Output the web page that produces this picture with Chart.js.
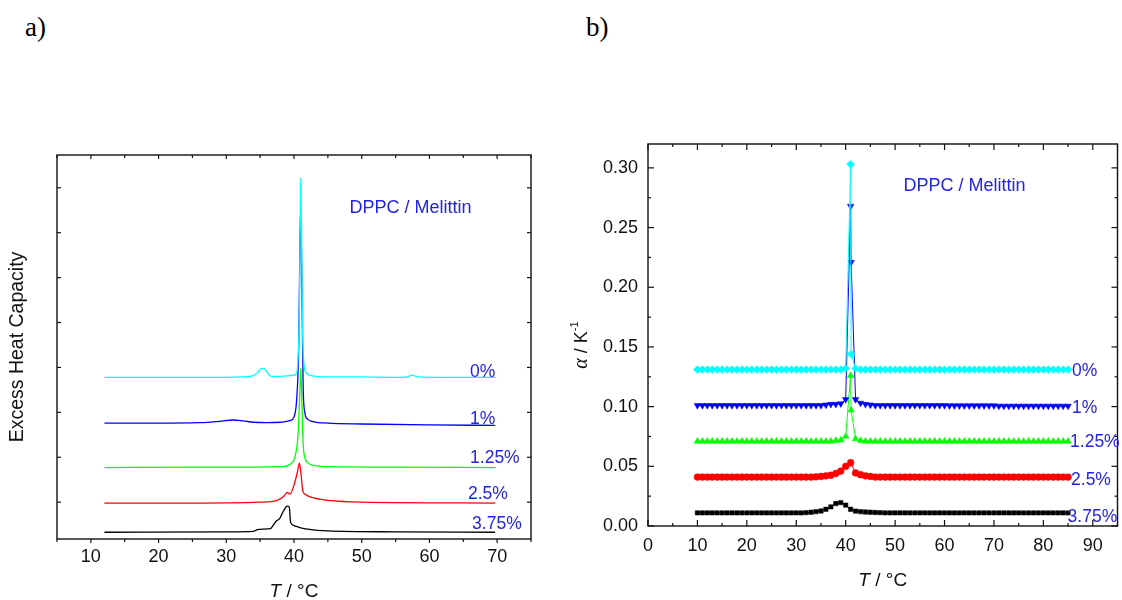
<!DOCTYPE html>
<html>
<head>
<meta charset="utf-8">
<script src="https://cdn.jsdelivr.net/npm/chart.js@4.4.1/dist/chart.umd.min.js"></script>
<style>
  body { margin: 0; background: #fff; width: 1122px; height: 600px; overflow: hidden; position: relative; }
  #ca { position: absolute; left: 0; top: 0; }
  #cb { position: absolute; left: 561px; top: 0; }
  .tag { position: absolute; font-family: "Liberation Serif", "Times New Roman", serif; font-size: 27px; line-height: 1; color: #000; }
</style>
</head>
<body>
<div class="tag" style="left:25px;top:14px">a)</div>
<div class="tag" style="left:586px;top:14px">b)</div>
<canvas id="ca" width="561" height="600"></canvas>
<canvas id="cb" width="561" height="600"></canvas>
<script>
// ---- panel a) : excess heat capacity traces (arbitrary units, offset per sample)
const cpT0 = [12, 20, 28, 32, 34, 34.6, 35.1, 35.5, 36.0, 36.6, 38, 39.5, 40.3, 40.6, 40.8, 40.95, 41.0, 41.1, 41.25, 41.45, 41.8, 42.5, 45, 50, 55, 56.8, 57.3, 57.7, 58.3, 62, 69.7];
const cp0  = [2.78, 2.78, 2.78, 2.79, 2.82, 2.88, 2.97, 2.98, 2.90, 2.80, 2.80, 2.82, 2.85, 3.2, 4.3, 6.8, 7.22, 6.2, 4.0, 3.1, 2.88, 2.82, 2.79, 2.79, 2.78, 2.79, 2.83, 2.82, 2.79, 2.78, 2.78];

const cpT1 = [12, 20, 26, 29, 31, 32.5, 34, 36, 38, 39.5, 40.0, 40.4, 40.7, 40.9, 41.0, 41.15, 41.35, 41.6, 42, 43, 45, 50, 60, 69.7];
const cp1  = [1.76, 1.76, 1.77, 1.80, 1.83, 1.81, 1.78, 1.77, 1.78, 1.82, 1.9, 2.3, 3.5, 6.0, 6.5, 5.0, 2.6, 2.0, 1.85, 1.79, 1.76, 1.74, 1.72, 1.71];

const cpT2 = [12, 25, 35, 38, 39.5, 40.2, 40.6, 40.85, 41.0, 41.15, 41.35, 41.6, 42, 43, 45, 55, 69.7];
const cp2  = [0.77, 0.78, 0.78, 0.79, 0.85, 1.05, 1.5, 2.4, 2.98, 2.3, 1.3, 1.0, 0.88, 0.82, 0.79, 0.78, 0.77];

const cpT3 = [12, 25, 35, 37.5, 38.5, 39.0, 39.4, 40.0, 40.5, 40.8, 41.05, 41.3, 41.6, 42.5, 45, 50, 69.7];
const cp3  = [-0.02, -0.02, 0.0, 0.04, 0.13, 0.22, 0.18, 0.38, 0.67, 0.87, 0.6, 0.25, 0.18, 0.11, 0.04, 0.0, -0.02];

const cpT4 = [12, 30, 34, 34.6, 35.5, 36.5, 37.0, 37.4, 37.9, 38.5, 39.0, 39.3, 39.5, 40.0, 41, 42, 45, 55, 69.7];
const cp4  = [-0.67, -0.66, -0.65, -0.61, -0.60, -0.59, -0.50, -0.42, -0.36, -0.18, -0.09, -0.11, -0.45, -0.52, -0.57, -0.60, -0.64, -0.66, -0.67];

const xTicksA = [10, 20, 30, 40, 50, 60, 70];
const xMinorA = [5, 15, 25, 35, 45, 55, 65, 75];
const yTicksA = [0, 1, 2, 3, 4, 5, 6, 7];

// ---- panel b) : thermal expansion coefficient, one point per degree
const tempsB = [10, 11, 12, 13, 14, 15, 16, 17, 18, 19, 20, 21, 22, 23, 24, 25, 26, 27, 28, 29,
  30, 31, 32, 33, 34, 35, 36, 37, 38, 39, 40, 41, 41.1, 42, 43, 44, 45, 46, 47, 48, 49, 50,
  51, 52, 53, 54, 55, 56, 57, 58, 59, 60, 61, 62, 63, 64, 65, 66, 67, 68, 69, 70,
  71, 72, 73, 74, 75, 76, 77, 78, 79, 80, 81, 82, 83, 84, 85];

const alpha0 = [0.131, 0.131, 0.131, 0.131, 0.131, 0.131, 0.131, 0.131, 0.131, 0.131,
  0.131, 0.131, 0.131, 0.131, 0.131, 0.131, 0.131, 0.131, 0.131, 0.131,
  0.131, 0.131, 0.131, 0.131, 0.131, 0.131, 0.131, 0.131, 0.131, 0.131,
  0.132, 0.303, 0.144,
  0.132, 0.131, 0.131, 0.131, 0.131, 0.131, 0.131, 0.131, 0.131,
  0.131, 0.131, 0.131, 0.131, 0.131, 0.131, 0.131, 0.131, 0.131, 0.131,
  0.131, 0.131, 0.131, 0.131, 0.131, 0.131, 0.131, 0.131, 0.131, 0.131,
  0.131, 0.131, 0.131, 0.131, 0.131, 0.131, 0.131, 0.131, 0.131, 0.131,
  0.131, 0.131, 0.131, 0.131, 0.131];

const alpha1 = [0.101, 0.101, 0.101, 0.101, 0.101, 0.101, 0.101, 0.101, 0.101, 0.101,
  0.101, 0.101, 0.101, 0.101, 0.101, 0.101, 0.101, 0.101, 0.101, 0.101,
  0.101, 0.101, 0.101, 0.101, 0.101, 0.101, 0.1015, 0.102, 0.102, 0.1025,
  0.106, 0.268, 0.221,
  0.106, 0.103, 0.102, 0.1015, 0.101, 0.101, 0.101, 0.101, 0.101,
  0.101, 0.101, 0.101, 0.101, 0.101, 0.101, 0.101, 0.101, 0.101, 0.101,
  0.1008, 0.1008, 0.1008, 0.1008, 0.1008, 0.1008, 0.1008, 0.1008, 0.1008, 0.1008,
  0.1005, 0.1005, 0.1005, 0.1005, 0.1005, 0.1005, 0.1005, 0.1005, 0.1005, 0.1005,
  0.1005, 0.1005, 0.1005, 0.1005, 0.1005];

const alpha2 = [0.071, 0.071, 0.071, 0.071, 0.071, 0.071, 0.071, 0.071, 0.071, 0.071,
  0.071, 0.071, 0.071, 0.071, 0.071, 0.071, 0.071, 0.071, 0.071, 0.071,
  0.071, 0.071, 0.071, 0.071, 0.071, 0.071, 0.071, 0.071, 0.0715, 0.072,
  0.075, 0.126, 0.097,
  0.073, 0.0715, 0.071, 0.071, 0.071, 0.071, 0.071, 0.071, 0.071,
  0.071, 0.071, 0.071, 0.071, 0.071, 0.071, 0.071, 0.071, 0.071, 0.071,
  0.071, 0.071, 0.071, 0.071, 0.071, 0.071, 0.071, 0.071, 0.071, 0.071,
  0.071, 0.071, 0.071, 0.071, 0.071, 0.071, 0.071, 0.071, 0.071, 0.071,
  0.071, 0.071, 0.071, 0.071, 0.071];

const alpha3 = [0.041, 0.041, 0.041, 0.041, 0.041, 0.041, 0.041, 0.041, 0.041, 0.041,
  0.041, 0.041, 0.041, 0.041, 0.041, 0.041, 0.041, 0.041, 0.041, 0.041,
  0.041, 0.041, 0.041, 0.041, 0.0412, 0.0415, 0.042, 0.0425, 0.044, 0.046,
  0.050, 0.053, null,
  0.0445, 0.043, 0.042, 0.0415, 0.041, 0.041, 0.041, 0.041, 0.041,
  0.041, 0.041, 0.041, 0.041, 0.041, 0.041, 0.041, 0.041, 0.041, 0.041,
  0.041, 0.041, 0.041, 0.041, 0.041, 0.041, 0.041, 0.041, 0.041, 0.041,
  0.041, 0.041, 0.041, 0.041, 0.041, 0.041, 0.041, 0.041, 0.041, 0.041,
  0.041, 0.041, 0.041, 0.041, 0.041];

const alpha4 = [0.011, 0.011, 0.011, 0.011, 0.011, 0.011, 0.011, 0.011, 0.011, 0.011,
  0.011, 0.011, 0.011, 0.011, 0.011, 0.011, 0.011, 0.011, 0.011, 0.011,
  0.011, 0.011, 0.0112, 0.0115, 0.012, 0.0126, 0.014, 0.016, 0.0188, 0.0196,
  0.0175, 0.014, null,
  0.0125, 0.012, 0.0117, 0.0115, 0.0113, 0.0112, 0.011, 0.011, 0.011,
  0.011, 0.011, 0.011, 0.011, 0.011, 0.011, 0.011, 0.011, 0.011, 0.011,
  0.011, 0.011, 0.011, 0.011, 0.011, 0.011, 0.011, 0.011, 0.011, 0.011,
  0.011, 0.011, 0.011, 0.011, 0.011, 0.011, 0.011, 0.011, 0.011, 0.011,
  0.011, 0.011, 0.011, 0.011, 0.011];

const xTicksB = [0, 10, 20, 30, 40, 50, 60, 70, 80, 90];
const xMinorB = [5, 15, 25, 35, 45, 55, 65, 75, 85, 95];
const yTicksB = [0, 0.05, 0.10, 0.15, 0.20, 0.25, 0.30];
const yMinorB = [0.025, 0.075, 0.125, 0.175, 0.225, 0.275];

const samples = ['0%', '1%', '1.25%', '2.5%', '3.75%'];
const colors = ['#00ffff', '#0000ff', '#00ff00', '#ff0000', '#000000'];
const title = 'DPPC / Melittin';

const SANS = '"Liberation Sans", Arial, sans-serif';
const NOTE = '#2323e6';

const pts = (xs, ys) => xs.map((x, i) => ({ x: x, y: ys[i] }));

function rich(ctx, parts, cx, cy, rot) {
  ctx.save();
  ctx.translate(cx, cy);
  if (rot) ctx.rotate(-Math.PI / 2);
  ctx.textBaseline = 'middle';
  ctx.textAlign = 'left';
  ctx.fillStyle = '#111';
  let w = 0;
  parts.forEach(p => { ctx.font = p.font; w += ctx.measureText(p.t).width; });
  let x = -w / 2;
  parts.forEach(p => { ctx.font = p.font; ctx.fillText(p.t, x, p.dy || 0); x += ctx.measureText(p.t).width; });
  ctx.restore();
}

const deco = {
  id: 'deco',
  afterDraw(chart, args, o) {
    const { ctx, chartArea: a } = chart;
    const x = chart.scales.x, y = chart.scales.y;
    ctx.save();
    ctx.strokeStyle = '#111';
    ctx.lineWidth = 1.4;
    ctx.strokeRect(a.left, a.top, a.right - a.left, a.bottom - a.top);
    ctx.lineWidth = 1.2;
    const seg = (x1, y1, x2, y2) => { ctx.beginPath(); ctx.moveTo(x1, y1); ctx.lineTo(x2, y2); ctx.stroke(); };
    const xt = (vals, len) => vals.forEach(v => {
      const p = x.getPixelForValue(v);
      seg(p, a.bottom, p, a.bottom + o.bottomDir * len);
      seg(p, a.top, p, a.top + len);
    });
    const yt = (vals, len) => vals.forEach(v => {
      const p = y.getPixelForValue(v);
      seg(a.left, p, a.left + len, p);
      seg(a.right, p, a.right - len, p);
    });
    xt(o.xMajor, o.major); xt(o.xMinor, o.minor);
    yt(o.yMajor, o.major); yt(o.yMinor, o.minor);
    ctx.textBaseline = 'middle';
    ctx.textAlign = 'left';
    o.notes.forEach(n => {
      ctx.font = n.font;
      ctx.fillStyle = NOTE;
      ctx.fillText(n.text, x.getPixelForValue(n.x), y.getPixelForValue(n.y));
    });
    ctx.restore();
    o.titles(ctx, a);
  }
};

const tickFont = { family: SANS, size: 18 };

new Chart(document.getElementById('ca'), {
  type: 'line',
  data: {
    datasets: [[cpT0, cp0], [cpT1, cp1], [cpT2, cp2], [cpT3, cp3], [cpT4, cp4]].map((s, i) => ({
      label: samples[i],
      data: pts(s[0], s[1]),
      borderColor: colors[i],
      borderWidth: 1.3,
      pointRadius: 0,
      cubicInterpolationMode: 'monotone'
    }))
  },
  options: {
    responsive: false,
    animation: false,
    events: [],
    layout: { padding: { top: 155, right: 30, left: 0, bottom: 0 } },
    plugins: {
      legend: { display: false },
      tooltip: { enabled: false },
      deco: {
        bottomDir: 1, major: 4, minor: 3,
        xMajor: xTicksA, xMinor: xMinorA, yMajor: yTicksA, yMinor: [],
        notes: samples.map((t, i) => ({ text: t, font: '17.5px ' + SANS, x: [66, 66, 66, 65.7, 66.3][i], y: [2.9, 1.85, 0.98, 0.18, -0.49][i] }))
          .concat([{ text: title, font: '18px ' + SANS, x: 48.2, y: 6.55 }]),
        titles(ctx, a) {
          rich(ctx, [
            { t: 'T', font: 'italic 19px ' + SANS },
            { t: ' / °C', font: '19px ' + SANS }
          ], (a.left + a.right) / 2, 592, false);
        }
      }
    },
    scales: {
      x: {
        type: 'linear', min: 5, max: 75,
        grid: { display: false, drawTicks: false },
        border: { display: false },
        afterBuildTicks: s => { s.ticks = xTicksA.map(v => ({ value: v })); },
        afterFit: s => { s.height = 61; },
        ticks: { font: tickFont, color: '#111', padding: 7, maxRotation: 0 }
      },
      y: {
        type: 'linear', min: -0.82, max: 7.73,
        grid: { display: false, drawTicks: false },
        border: { display: false },
        afterBuildTicks: s => { s.ticks = yTicksA.map(v => ({ value: v })); },
        afterFit: s => { s.width = 57; },
        ticks: { display: false },
        title: { display: true, text: 'Excess Heat Capacity', color: '#111', font: { family: SANS, size: 19.5 }, padding: { top: 6, bottom: 0 } }
      }
    }
  },
  plugins: [deco]
});

const marks = ['rectRot', 'triangle', 'triangle', 'circle', 'rect'];
const rots = [0, 180, 0, 0, 0];
const sizes = [3.9, 3.8, 3.8, 3.4, 3.1];
const seriesB = [alpha0, alpha1, alpha2, alpha3, alpha4];

new Chart(document.getElementById('cb'), {
  type: 'line',
  data: {
    datasets: seriesB.map((s, i) => ({
      label: samples[i],
      data: pts(tempsB, s),
      borderColor: colors[i],
      backgroundColor: colors[i],
      borderWidth: 1,
      pointStyle: marks[i],
      pointRotation: rots[i],
      pointRadius: sizes[i],
      pointBorderWidth: 0.5,
      spanGaps: true
    }))
  },
  options: {
    responsive: false,
    animation: false,
    events: [],
    layout: { padding: { top: 144, right: 1, left: 0, bottom: 0 } },
    plugins: {
      legend: { display: false },
      tooltip: { enabled: false },
      deco: {
        bottomDir: -1, major: 6, minor: 3,
        xMajor: xTicksB, xMinor: xMinorB, yMajor: yTicksB, yMinor: yMinorB,
        notes: samples.map((t, i) => ({ text: t, font: '17.5px ' + SANS, x: [85.8, 85.8, 85.4, 85.6, 84.9][i], y: [0.130, 0.099, 0.070, 0.0384, 0.0073][i] }))
          .concat([{ text: title, font: '18px ' + SANS, x: 51.7, y: 0.2852 }]),
        titles(ctx, a) {
          rich(ctx, [
            { t: 'T', font: 'italic 19px ' + SANS },
            { t: ' / °C', font: '19px ' + SANS }
          ], (a.left + a.right) / 2, 581, false);
          rich(ctx, [
            { t: 'α', font: 'italic 20px "Liberation Serif", serif' },
            { t: ' / K', font: '18px ' + SANS },
            { t: '-1', font: '11px ' + SANS, dy: -7 }
          ], 21, 345, true);
        }
      }
    },
    scales: {
      x: {
        type: 'linear', min: 0, max: 95,
        grid: { display: false, drawTicks: false },
        border: { display: false },
        afterBuildTicks: s => { s.ticks = xTicksB.map(v => ({ value: v })); },
        afterFit: s => { s.height = 74; },
        ticks: { font: tickFont, color: '#111', padding: 9, maxRotation: 0 }
      },
      y: {
        type: 'linear', min: 0, max: 0.32,
        grid: { display: false, drawTicks: false },
        border: { display: false },
        afterBuildTicks: s => { s.ticks = yTicksB.map(v => ({ value: v })); },
        afterFit: s => { s.width = 87; },
        ticks: { font: tickFont, color: '#111', padding: 10, callback: v => v.toFixed(2) }
      }
    }
  },
  plugins: [deco]
});
</script>
</body>
</html>
